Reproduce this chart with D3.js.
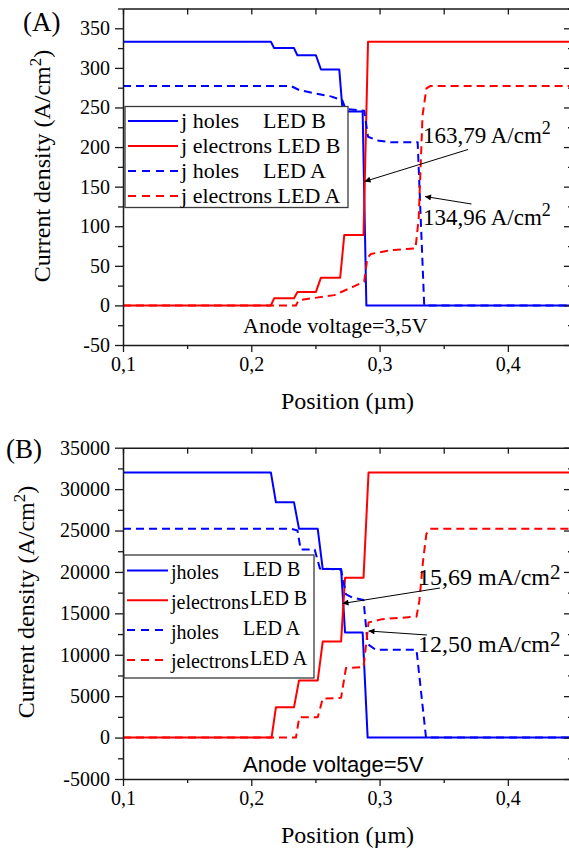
<!DOCTYPE html>
<html>
<head>
<meta charset="utf-8">
<script src="https://cdn.jsdelivr.net/npm/d3@7"></script>
<style>
  body { margin: 0; background: #fff; }
  svg { display: block; }
</style>
</head>
<body>
<div id="chart"></div>
<script>
'use strict';

var SERIF = "'Liberation Serif', 'Times New Roman', Tinos, 'DejaVu Serif', serif";
var SANS = "'Liberation Sans', Arial, Arimo, sans-serif";

// ---- panel (A), anode voltage 3,5 V : [position (um), current density (A/cm2)]
var holesLedB_A = [[0.1, 333], [0.2153, 333], [0.2178, 325], [0.2333, 325], [0.2359, 316], [0.2504, 316],
    [0.2543, 298], [0.2686, 298], [0.2712, 245], [0.2868, 245], [0.2897, 0], [0.45, 0]];
var electronsLedB_A = [[0.1, 0], [0.2153, 0], [0.2178, 9], [0.2333, 9], [0.236, 17], [0.2504, 17],
    [0.2543, 35], [0.2693, 35], [0.2725, 89], [0.2875, 89], [0.291, 333], [0.45, 333]];
var holesLedA_A = [[0.1, 277], [0.231, 277], [0.2374, 272], [0.249, 268], [0.262, 264], [0.271, 259],
    [0.2735, 248], [0.288, 246], [0.291, 213], [0.298, 208.5], [0.309, 206], [0.3297, 206],
    [0.3348, 0], [0.45, 0]];
var electronsLedA_A = [[0.1, 0], [0.2348, 0], [0.2368, 6], [0.2387, 7], [0.2647, 13], [0.28, 24],
    [0.288, 30], [0.2905, 60], [0.2933, 65], [0.3063, 69], [0.311, 70], [0.328, 72], [0.3305, 110],
    [0.3335, 240], [0.3365, 274], [0.3395, 277], [0.45, 277]];

// ---- panel (B), anode voltage 5 V
var holesLedB_B = [[0.1, 32000], [0.2153, 32000], [0.2192, 28400], [0.2333, 28400], [0.2372, 25200],
    [0.2518, 25200], [0.2557, 20350], [0.27, 20350], [0.2731, 12700], [0.2868, 12700], [0.2907, 0], [0.45, 0]];
var electronsLedB_B = [[0.1, 0], [0.2158, 0], [0.2192, 3650], [0.2333, 3650], [0.2372, 6900],
    [0.2518, 6900], [0.2557, 11600], [0.27, 11600], [0.2731, 19300], [0.2875, 19300], [0.2914, 32000],
    [0.45, 32000]];
var holesLedA_B = [[0.1, 25200], [0.2315, 25200], [0.236, 25000], [0.2385, 22700], [0.2494, 22700],
    [0.2535, 20400], [0.27, 20300], [0.2738, 17300], [0.279, 16900], [0.2875, 16600], [0.2907, 11300],
    [0.297, 10600], [0.3288, 10600], [0.3362, 0], [0.45, 0]];
var electronsLedA_B = [[0.1, 0], [0.2348, 0], [0.2374, 2450], [0.2518, 2450], [0.2557, 4700],
    [0.27, 4800], [0.2738, 8400], [0.2875, 8500], [0.2914, 13900], [0.302, 14300], [0.3288, 14600],
    [0.331, 16500], [0.334, 21500], [0.3365, 24600], [0.339, 25200], [0.45, 25200]];

var xTicks = [0.1, 0.2, 0.3, 0.4];
var xMinorTicks = [0.15, 0.25, 0.35, 0.45];
var yTicksA = [-50, 0, 50, 100, 150, 200, 250, 300, 350];
var yMinorA = [-25, 25, 75, 125, 175, 225, 275, 325, 375];
var yTicksB = [-5000, 0, 5000, 10000, 15000, 20000, 25000, 30000, 35000];
var yMinorB = [-2500, 2500, 7500, 12500, 17500, 22500, 27500, 32500];

var seriesNames = ["holes", "electrons", "holes", "electrons"];
var ledNames = ["LED B", "LED B", "LED A", "LED A"];
var seriesColors = ["#0000ff", "#ff0000", "#0000ff", "#ff0000"];
var seriesDashed = [false, false, true, true];

var svg = d3.select("#chart").append("svg")
    .attr("width", 569)
    .attr("height", 848)
    .style("font-family", SERIF);

svg.append("defs").append("marker")
    .attr("id", "arrow")
    .attr("viewBox", "0 0 10 10")
    .attr("refX", 10)
    .attr("refY", 5)
    .attr("markerUnits", "userSpaceOnUse")
    .attr("markerWidth", 9)
    .attr("markerHeight", 6)
    .attr("orient", "auto")
    .append("path")
    .attr("d", "M0,0L10,5L0,10z")
    .attr("fill", "#000");

function styleAxis(g) {
    g.attr("font-family", null).attr("font-size", null);
    g.selectAll("path.domain").attr("stroke", "#1a1a1a").attr("stroke-width", 1.5);
    g.selectAll(".tick line").attr("stroke", "#1a1a1a").attr("stroke-width", 1.3);
    g.selectAll("text").style("font-family", SERIF).style("font-size", "20px").attr("fill", "#000");
}

function drawPanel(p) {
    var x = d3.scaleLinear().domain([0.1, 0.45]).range([123, 572]);
    var y = d3.scaleLinear().domain(p.yDomain).range(p.yRange);
    var g = svg.append("g");
    var bottom = p.yRange[0], top = p.yRange[1];

    var line = d3.line()
        .x(function(d) { return x(d[0]); })
        .y(function(d) { return y(d[1]); });

    p.series.forEach(function(s, i) {
        g.append("path")
            .datum(s)
            .attr("fill", "none")
            .attr("stroke", seriesColors[i])
            .attr("stroke-width", 2)
            .attr("stroke-linejoin", "round")
            .attr("stroke-dasharray", seriesDashed[i] ? "8,5" : null)
            .attr("d", line);
    });

    // bottom axis
    g.append("g")
        .attr("transform", "translate(0," + bottom + ")")
        .call(d3.axisBottom(x).tickValues(xTicks).tickSize(7).tickSizeOuter(0).tickPadding(4)
            .tickFormat(function(d) { return d3.format(".1f")(d).replace(".", ","); }))
        .call(styleAxis)
        .selectAll("text").attr("dy", null).attr("y", 26);
    g.append("g")
        .attr("transform", "translate(0," + bottom + ")")
        .call(d3.axisBottom(x).tickValues(xMinorTicks).tickSize(4).tickFormat(""))
        .call(styleAxis)
        .select("path.domain").remove();

    // top axis, ticks inward
    g.append("g")
        .attr("transform", "translate(0," + top + ")")
        .call(d3.axisBottom(x).tickValues(xTicks.concat(xMinorTicks)).tickSize(6).tickSizeOuter(0).tickFormat(""))
        .call(styleAxis);

    // left axis
    g.append("g")
        .attr("transform", "translate(123,0)")
        .call(d3.axisLeft(y).tickValues(p.yTicks).tickSize(8).tickSizeOuter(0).tickPadding(5)
            .tickFormat(function(d) { return String(d); }))
        .call(styleAxis);
    g.append("g")
        .attr("transform", "translate(123,0)")
        .call(d3.axisLeft(y).tickValues(p.yMinor).tickSize(5).tickFormat(""))
        .call(styleAxis)
        .select("path.domain").remove();

    // right axis, ticks inward
    g.append("g")
        .attr("transform", "translate(572,0)")
        .call(d3.axisLeft(y).tickValues(p.yTicks).tickSize(8).tickSizeOuter(0).tickFormat(""))
        .call(styleAxis);
    g.append("g")
        .attr("transform", "translate(572,0)")
        .call(d3.axisLeft(y).tickValues(p.yMinor).tickSize(4).tickFormat(""))
        .call(styleAxis)
        .select("path.domain").remove();

    // axis titles
    var yt = g.append("text")
        .attr("transform", "translate(" + p.yTitleX + "," + p.yTitleY + ") rotate(-90)")
        .attr("text-anchor", "middle")
        .style("font-size", "24px");
    yt.append("tspan").text("Current density (A/cm");
    yt.append("tspan").style("font-size", "17px").attr("dy", -9).text("2");
    yt.append("tspan").attr("dy", 9).text(")");

    g.append("text")
        .attr("x", 347.5)
        .attr("y", p.xTitleY)
        .attr("text-anchor", "middle")
        .style("font-size", "24px")
        .text("Position (\u00b5m)");

    g.append("text")
        .attr("x", p.labelX)
        .attr("y", p.labelY)
        .style("font-size", "27px")
        .text(p.label);

    // legend
    var lg = p.legend;
    g.append("rect")
        .attr("x", lg.x)
        .attr("y", lg.y)
        .attr("width", lg.w)
        .attr("height", lg.h)
        .attr("fill", "#fff")
        .attr("stroke", "#3a3a3a")
        .attr("stroke-width", 1.3);
    seriesNames.forEach(function(name, i) {
        var ly = lg.y + lg.firstRow + i * lg.rowStep;
        g.append("line")
            .attr("x1", lg.x + 3)
            .attr("x2", lg.x + 3 + lg.sampleW)
            .attr("y1", ly)
            .attr("y2", ly)
            .attr("stroke", seriesColors[i])
            .attr("stroke-width", 2)
            .attr("stroke-dasharray", seriesDashed[i] ? "8,6" : null);
        var t = g.append("text")
            .attr("x", lg.x + lg.sampleW + 6)
            .attr("y", ly + lg.baseOff)
            .style("font-size", lg.fontSize + "px");
        t.append("tspan").text("j" + lg.sep);
        t.append("tspan").attr("dy", lg.subShift).text(name);
        var right = t.node().getBBox();
        right = right.x + right.width;
        g.append("text")
            .attr("x", Math.max(lg.ledX, right + lg.ledGap))
            .attr("y", ly + lg.baseOff + lg.ledShift)
            .style("font-size", lg.fontSize + "px")
            .text(ledNames[i]);
    });

    // annotations
    p.notes.forEach(function(n) {
        g.append("line")
            .attr("x1", n.from[0]).attr("y1", n.from[1])
            .attr("x2", n.to[0]).attr("y2", n.to[1])
            .attr("stroke", "#000")
            .attr("stroke-width", 1)
            .attr("marker-end", "url(#arrow)");
        var t = g.append("text")
            .attr("x", n.tx)
            .attr("y", n.ty)
            .style("font-size", n.size + "px");
        t.append("tspan").text(n.text);
        t.append("tspan").style("font-size", n.supSize + "px").attr("dy", -n.supShift).text("2");
    });

    g.append("text")
        .attr("x", 243)
        .attr("y", p.voltY)
        .style("font-size", "22px")
        .style("font-family", p.voltFont)
        .text(p.voltText);
}

drawPanel({
    yDomain: [-50, 375],
    yRange: [345, 8.5],
    yTicks: yTicksA,
    yMinor: yMinorA,
    series: [holesLedB_A, electronsLedB_A, holesLedA_A, electronsLedA_A],
    yTitleX: 50, yTitleY: 166,
    xTitleY: 409,
    label: "(A)", labelX: 23, labelY: 31,
    legend: { x: 125, y: 106.5, w: 223, h: 101, firstRow: 14.5, rowStep: 25, sampleW: 50,
        baseOff: 6.5, fontSize: 22, sep: " ", subShift: 0, ledX: 263, ledGap: 5.5, ledShift: 0 },
    notes: [
        { from: [468, 149.5], to: [364.5, 181.5], text: "163,79 A/cm", tx: 423, ty: 143, size: 23, supSize: 18, supShift: 9 },
        { from: [471.5, 204], to: [425, 196.5], text: "134,96 A/cm", tx: 423, ty: 225, size: 23, supSize: 18, supShift: 9 }
    ],
    voltText: "Anode voltage=3,5V", voltY: 333, voltFont: SERIF
});

drawPanel({
    yDomain: [-5000, 35000],
    yRange: [779, 447.7],
    yTicks: yTicksB,
    yMinor: yMinorB,
    series: [holesLedB_B, electronsLedB_B, holesLedA_B, electronsLedA_B],
    yTitleX: 34, yTitleY: 602,
    xTitleY: 842.5,
    label: "(B)", labelX: 6, labelY: 458,
    legend: { x: 124, y: 555, w: 190, h: 123, firstRow: 15.5, rowStep: 29.8, sampleW: 41,
        baseOff: 8.5, fontSize: 20, sep: "", subShift: 0, ledX: 243, ledGap: 1, ledShift: -3.5 },
    notes: [
        { from: [440, 588], to: [342.5, 603.5], text: "15,69 mA/cm", tx: 418, ty: 585, size: 24, supSize: 21, supShift: 6 },
        { from: [427, 635], to: [368.5, 631], text: "12,50 mA/cm", tx: 418, ty: 652, size: 24, supSize: 21, supShift: 6 }
    ],
    voltText: "Anode voltage=5V", voltY: 771.5, voltFont: SANS
});
</script>
</body>
</html>
